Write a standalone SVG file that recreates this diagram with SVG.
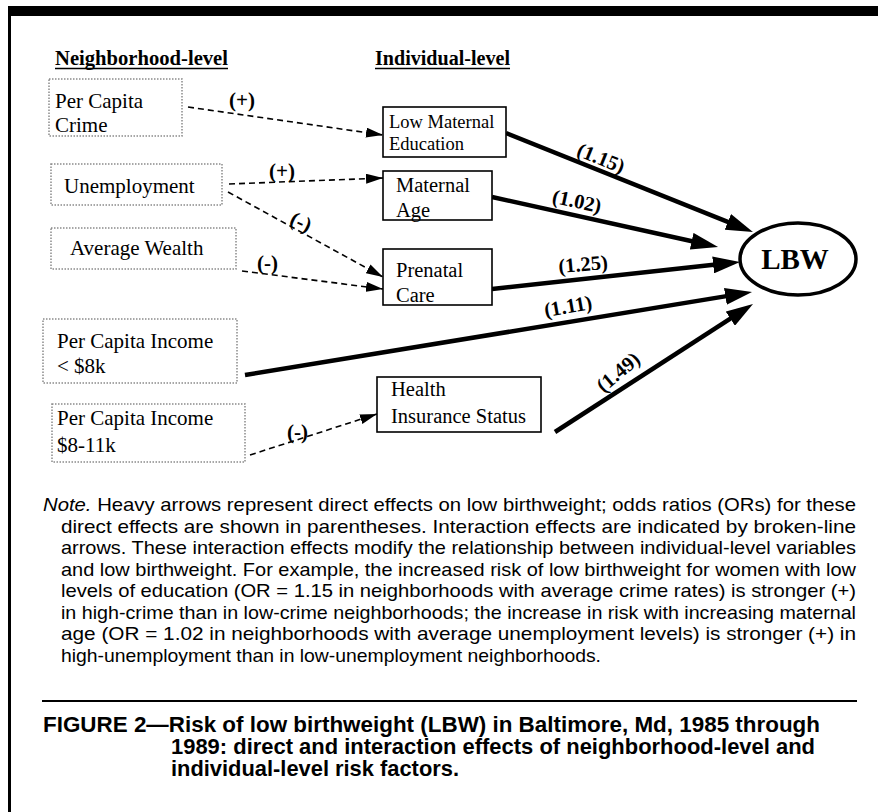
<svg xmlns="http://www.w3.org/2000/svg" width="878" height="812" viewBox="0 0 878 812">
<style>
.serif{font-family:"Liberation Serif","Times New Roman",serif;fill:#000}
.hdr{font-size:20px;font-weight:bold}
.nb{fill:#fff;stroke:#8a8a8a;stroke-width:1.5;stroke-dasharray:1.5 1.5}
.ib{fill:#fff;stroke:#000;stroke-width:1.6}
.t21{font-size:21px}
.t20{font-size:20.5px}
.t18{font-size:18.5px}
.heavy{stroke:#000;stroke-width:4.5;fill:none;marker-end:url(#bigHead)}
.dash{stroke:#000;stroke-width:1.6;fill:none;stroke-dasharray:6 4;marker-end:url(#smallHead)}
.lbl{font-size:20.5px;font-weight:bold}
.sign{font-size:21px;font-weight:bold}
.sans{font-family:"Liberation Sans",Arial,Helvetica,sans-serif;fill:#000}
.note{font-size:18.5px}
.cap{font-size:21.5px;font-weight:bold}
</style>
<defs>
<marker id="bigHead" viewBox="0 0 27 17" refX="12" refY="8.5" markerWidth="27" markerHeight="17" markerUnits="userSpaceOnUse" orient="auto">
<path d="M0,0 L27,8.5 L0,17 z" fill="#000"/>
</marker>
<marker id="smallHead" viewBox="0 0 17 10" refX="17" refY="5" markerWidth="17" markerHeight="10" markerUnits="userSpaceOnUse" orient="auto">
<path d="M0,0 L17,5 L0,10 z" fill="#000"/>
</marker>
</defs>

<!-- frame -->
<rect x="8" y="6" width="870" height="10" fill="#000"/>
<rect x="8" y="6" width="3" height="806" fill="#000"/>

<!-- headers -->
<g id="header-neighborhood">
<text class="serif hdr" x="55" y="65" textLength="173" lengthAdjust="spacingAndGlyphs">Neighborhood-level</text>
<line x1="55" y1="68.5" x2="228" y2="68.5" stroke="#000" stroke-width="1.5"/>
</g>
<g id="header-individual">
<text class="serif hdr" x="375" y="65" textLength="135" lengthAdjust="spacingAndGlyphs">Individual-level</text>
<line x1="375" y1="68.5" x2="510" y2="68.5" stroke="#000" stroke-width="1.5"/>
</g>

<!-- connectors -->
<g id="connectors">
<line class="dash" x1="188" y1="107" x2="383" y2="135"/>
<line class="dash" x1="229" y1="184" x2="383" y2="178"/>
<line class="dash" x1="228" y1="192" x2="383" y2="277"/>
<line class="dash" x1="242" y1="271" x2="383" y2="289"/>
<line class="dash" x1="250" y1="455" x2="377" y2="414"/>

<line class="heavy" x1="506" y1="133" x2="739" y2="226.4"/>
<line class="heavy" x1="492" y1="197" x2="703.4" y2="243.8"/>
<line class="heavy" x1="492" y1="289" x2="725.1" y2="263.6"/>
<line class="heavy" x1="245" y1="375" x2="737.2" y2="294.4"/>
<line class="heavy" x1="555" y1="432" x2="740.4" y2="312.1"/>

<text class="serif sign" x="229" y="107">(+)</text>
<text class="serif sign" x="269" y="178">(+)</text>
<text class="serif sign" transform="translate(301,223) rotate(25)" x="-11" y="6">(-)</text>
<text class="serif sign" x="257" y="270">(-)</text>
<text class="serif sign" x="287" y="439">(-)</text>

<text class="serif lbl" text-anchor="middle" transform="translate(601,158) rotate(22)" y="7">(1.15)</text>
<text class="serif lbl" text-anchor="middle" transform="translate(577,201) rotate(12)" y="7">(1.02)</text>
<text class="serif lbl" text-anchor="middle" transform="translate(583,264) rotate(-5)" y="7">(1.25)</text>
<text class="serif lbl" text-anchor="middle" transform="translate(568,306) rotate(-10)" y="7">(1.11)</text>
<text class="serif lbl" text-anchor="middle" transform="translate(618,372) rotate(-40)" y="7">(1.49)</text>
</g>

<!-- neighborhood-level nodes -->
<g id="node-crime">
<rect class="nb" x="49" y="79" width="133" height="57"/>
<text class="serif t21" x="55" y="108">Per Capita</text>
<text class="serif t21" x="55" y="132">Crime</text>
</g>
<g id="node-unemployment">
<rect class="nb" x="51" y="164" width="171" height="41"/>
<text class="serif t21" x="64" y="193">Unemployment</text>
</g>
<g id="node-wealth">
<rect class="nb" x="51" y="228" width="185" height="41"/>
<text class="serif t21" x="70" y="255">Average Wealth</text>
</g>
<g id="node-income-8k">
<rect class="nb" x="43" y="319" width="194" height="64"/>
<text class="serif t21" x="57" y="348">Per Capita Income</text>
<text class="serif t21" x="57" y="373">&lt; $8k</text>
</g>
<g id="node-income-8-11k">
<rect class="nb" x="52" y="404" width="193" height="58"/>
<text class="serif t21" x="57" y="425">Per Capita Income</text>
<text class="serif t21" x="57" y="452">$8-11k</text>
</g>

<!-- individual-level nodes -->
<g id="node-education">
<rect class="ib" x="383" y="107" width="123" height="50"/>
<text class="serif t18" x="389" y="128">Low Maternal</text>
<text class="serif t18" x="389" y="150">Education</text>
</g>
<g id="node-age">
<rect class="ib" x="383" y="171" width="109" height="49"/>
<text class="serif t20" x="396" y="192">Maternal</text>
<text class="serif t20" x="396" y="217">Age</text>
</g>
<g id="node-prenatal">
<rect class="ib" x="383" y="249" width="109" height="56"/>
<text class="serif t20" x="396" y="277">Prenatal</text>
<text class="serif t20" x="396" y="302">Care</text>
</g>
<g id="node-insurance">
<rect class="ib" x="377" y="377" width="164" height="55"/>
<text class="serif t20" x="391" y="396">Health</text>
<text class="serif t20" x="391" y="423">Insurance Status</text>
</g>

<!-- outcome -->
<g id="node-lbw">
<ellipse cx="798" cy="259" rx="58" ry="36" fill="#fff" stroke="#000" stroke-width="3.5"/>
<text class="serif" x="795" y="269" text-anchor="middle" font-size="29" font-weight="bold">LBW</text>
</g>

<!-- note -->
<g id="note">
<text class="sans note" x="43" y="511" textLength="813" lengthAdjust="spacingAndGlyphs"><tspan font-style="italic">Note.</tspan> Heavy arrows represent direct effects on low birthweight; odds ratios (ORs) for these</text>
<text class="sans note" x="61" y="533" textLength="795" lengthAdjust="spacingAndGlyphs">direct effects are shown in parentheses. Interaction effects are indicated by broken-line</text>
<text class="sans note" x="61" y="554" textLength="795" lengthAdjust="spacingAndGlyphs">arrows. These interaction effects modify the relationship between individual-level variables</text>
<text class="sans note" x="61" y="576" textLength="795" lengthAdjust="spacingAndGlyphs">and low birthweight. For example, the increased risk of low birthweight for women with low</text>
<text class="sans note" x="61" y="597" textLength="795" lengthAdjust="spacingAndGlyphs">levels of education (OR = 1.15 in neighborhoods with average crime rates) is stronger (+)</text>
<text class="sans note" x="61" y="619" textLength="795" lengthAdjust="spacingAndGlyphs">in high-crime than in low-crime neighborhoods; the increase in risk with increasing maternal</text>
<text class="sans note" x="61" y="640" textLength="795" lengthAdjust="spacingAndGlyphs">age (OR = 1.02 in neighborhoods with average unemployment levels) is stronger (+) in</text>
<text class="sans note" x="61" y="662" textLength="540" lengthAdjust="spacingAndGlyphs">high-unemployment than in low-unemployment neighborhoods.</text>
</g>

<line x1="42" y1="701" x2="857" y2="701" stroke="#000" stroke-width="2"/>

<!-- caption -->
<g id="caption">
<text class="sans cap" x="43" y="732" textLength="777" lengthAdjust="spacingAndGlyphs">FIGURE 2—Risk of low birthweight (LBW) in Baltimore, Md, 1985 through</text>
<text class="sans cap" x="171" y="754" textLength="644" lengthAdjust="spacingAndGlyphs">1989: direct and interaction effects of neighborhood-level and</text>
<text class="sans cap" x="171" y="776" textLength="288" lengthAdjust="spacingAndGlyphs">individual-level risk factors.</text>
</g>
</svg>
